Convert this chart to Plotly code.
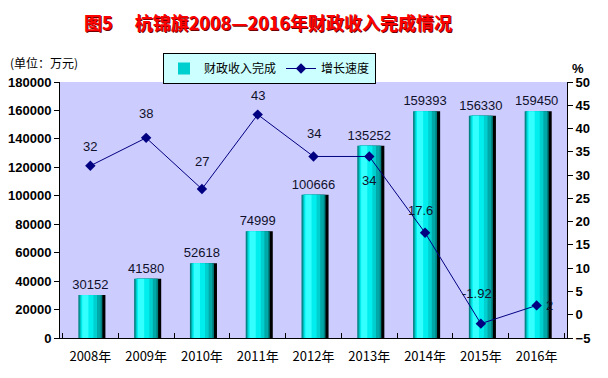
import plotly.graph_objects as go

years = ["2008年", "2009年", "2010年", "2011年", "2012年", "2013年", "2014年", "2015年", "2016年"]
revenue = [30152, 41580, 52618, 74999, 100666, 135252, 159393, 156330, 159450]
growth = [32, 38, 27, 43, 34, 34, 17.6, -1.92, 2]
growth_labels = ["32", "38", "27", "43", "34", "34", "17.6", "-1.92", "2"]

rev_name = "财政收入完成"
growth_name = "增长速度"
title_text = "图5　 杭锦旗2008—2016年财政收入完成情况"
unit_text = "(单位：万元)"

fig = go.Figure()

# cylinder-like shading built from overlaid bars of the same values
layers = [
    # (color, offset, width, showlegend)
    ("#000000", -0.16, 0.43, False),
    ("#007F7F", -0.215, 0.43, False),
    ("#00A8A8", -0.195, 0.38, False),
    ("#00CFCF", -0.18, 0.30, True),
    ("#00EEEE", -0.165, 0.22, False),
    ("#33FFFF", -0.145, 0.11, False),
]
for i, (col, off, w, sl) in enumerate(layers):
    kw = {}
    if i == 1:
        kw = dict(text=[str(v) for v in revenue], textposition="outside",
                  textfont=dict(size=13, color="#10102a", family="Liberation Sans"),
                  outsidetextfont=dict(size=13, color="#10102a", family="Liberation Sans"),
                  constraintext="none", cliponaxis=False)
    fig.add_trace(go.Bar(
        x=years, y=revenue, name=rev_name, marker=dict(color=col, line=dict(width=0)),
        offset=[off] * len(years), width=[w] * len(years), showlegend=sl,
        legendrank=1, hoverinfo="skip", **kw))

fig.add_trace(go.Scatter(
    x=years, y=growth, name=growth_name, yaxis="y2", mode="lines+markers",
    line=dict(color="#000080", width=1),
    marker=dict(symbol="diamond", size=8, color="#000080"),
    legendrank=2, cliponaxis=False))

shifts = [(0, 19), (0, 24), (0, 28), (0, 19), (0, 23), (0, -24), (-5, 22), (-4, 30), (13, 0)]
for xv, yv, lab, (dx, dy) in zip(years, growth, growth_labels, shifts):
    fig.add_annotation(x=xv, y=yv, xref="x", yref="y2", text=lab, showarrow=False,
                       xshift=dx, yshift=dy,
                       font=dict(size=13, color="#10102a", family="Liberation Sans"))

# plot area in the window: x 60..567, y 82..338
fig.add_annotation(x=(268 - 60) / 507, y=(338 - 22) / 256, xref="paper", yref="paper",
                   text=title_text, showarrow=False, xanchor="center", yanchor="middle",
                   font=dict(size=18, color="#FF0000", family="Noto Sans CJK SC", weight="bold",
                             shadow="1px 1px 0px #700000"))
fig.add_annotation(x=(8 - 60) / 507, y=(338 - 62) / 256, xref="paper", yref="paper",
                   text=unit_text, showarrow=False, xanchor="left", yanchor="middle",
                   font=dict(size=12, color="#000000", family="Noto Sans CJK SC"))
fig.add_annotation(x=(578 - 60) / 507, y=(338 - 68) / 256, xref="paper", yref="paper",
                   text="%", showarrow=False, xanchor="center", yanchor="middle",
                   font=dict(size=13, color="#000000", family="Liberation Sans", weight="bold"))

fig.update_layout(
    width=600, height=370,
    margin=dict(l=52, r=41, t=74, b=40, autoexpand=False),
    paper_bgcolor="#FFFFFF", plot_bgcolor="#CCCCFF",
    barmode="overlay",
    font=dict(family="Noto Sans CJK SC", size=13, color="#000000"),
    legend=dict(orientation="h", x=(163 - 60) / 507, y=(338 - 53) / 256,
                xanchor="left", yanchor="top", bgcolor="#CCFFFF",
                bordercolor="#000000", borderwidth=1,
                font=dict(size=12, family="Noto Sans CJK SC"),
                itemwidth=30, tracegroupgap=0),
    xaxis=dict(type="category", showline=True, linecolor="#000000", linewidth=1,
               ticks="inside", tickson="boundaries", ticklen=5, tickcolor="#000000",
               showgrid=False, ticklabelstandoff=6, automargin=False,
               tickfont=dict(size=13, family="Noto Sans CJK SC", color="#000000")),
    yaxis=dict(range=[0, 180000], dtick=20000, tickformat="d", showline=True,
               linecolor="#000000", automargin=False,
               ticks="outside", ticklen=5, tickcolor="#000000", showgrid=False,
               zeroline=False,
               tickfont=dict(size=13, family="Liberation Sans Narrow, Liberation Sans",
                             weight="bold", color="#000000")),
    yaxis2=dict(range=[-5, 50], dtick=5, overlaying="y", side="right", showline=True,
                linecolor="#000000", ticks="outside", ticklen=5, tickcolor="#000000",
                showgrid=False, zeroline=False, automargin=False,
                tickfont=dict(size=13, family="Liberation Sans Narrow, Liberation Sans",
                              weight="bold", color="#000000")),
    showlegend=True,
)

fig.write_html("out.html")
